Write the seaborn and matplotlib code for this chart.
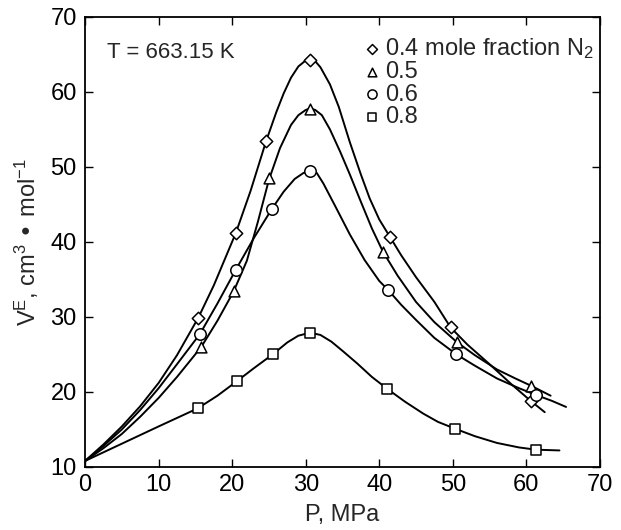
import numpy as np
import pandas as pd
import matplotlib
matplotlib.use("Agg")
import matplotlib.pyplot as plt
import seaborn as sns

sns.set_theme(style="ticks")
plt.rcParams['font.family'] = ['Liberation Sans', 'DejaVu Sans']
plt.rcParams['mathtext.default'] = 'regular'

# measured points (P in MPa, V^E in cm3/mol)
labels = ["0.4 mole fraction N$_2$", "0.5", "0.6", "0.8"]
markers = ["D", "^", "o", "s"]
marker_sizes = [40, 60, 68, 50]

p_04 = [15.4, 20.5, 24.6, 30.6, 41.5, 49.7, 60.6]
v_04 = [29.9, 41.2, 53.4, 64.2, 40.6, 28.6, 18.8]
p_05 = [15.8, 20.2, 25.0, 30.6, 40.5, 50.6, 60.7]
v_05 = [26.0, 33.4, 48.5, 57.7, 38.7, 26.6, 20.8]
p_06 = [15.6, 20.5, 25.4, 30.6, 41.2, 50.5, 61.3]
v_06 = [27.7, 36.3, 44.4, 49.4, 33.6, 25.0, 19.6]
p_08 = [15.3, 20.6, 25.5, 30.6, 41.1, 50.3, 61.3]
v_08 = [17.8, 21.4, 25.0, 27.9, 20.4, 15.1, 12.3]

# smooth fitted curves
cp_04 = [0, 2.5, 5, 7.5, 10, 12.5, 15.4, 17.5, 20.5, 22.5, 24.6, 26, 27, 28, 29, 30, 30.6, 31.2,
         32, 33.3, 34.5, 36, 37.5, 38.7, 40, 41.5, 43, 45, 47.5, 49.7, 52, 55, 58, 60.6, 62.5]
cv_04 = [10.8, 13.0, 15.4, 18.1, 21.2, 24.9, 29.9, 34.2, 41.2, 46.8, 53.4, 57.3, 59.8, 61.9, 63.4, 64.2, 64.4, 64.2,
         63.3, 61.0, 58.0, 53.3, 49.0, 45.8, 43.0, 40.6, 38.2, 35.3, 32.0, 28.6, 26.3, 23.7, 21.0, 18.8, 17.3]
cp_05 = [0, 2.5, 5, 7.5, 10, 12.5, 15.8, 18, 20.2, 22, 23.5, 25, 26.5, 28, 29, 30, 30.6, 31.3,
         32.2, 33.3, 34.7, 36, 37.4, 39, 40.5, 42.5, 45, 47.5, 50.6, 53, 56, 58.5, 60.7, 63.3]
cv_05 = [10.8, 12.5, 14.4, 16.7, 19.2, 22.0, 26.0, 29.5, 33.4, 37.5, 42.7, 48.3, 52.5, 55.6, 56.9, 57.6, 57.8, 57.6,
         56.9, 55.0, 52.0, 49.0, 45.6, 41.8, 38.7, 35.5, 32.0, 29.3, 26.6, 24.9, 23.0, 21.8, 20.8, 19.5]
cp_06 = [0, 2.5, 5, 7.5, 10, 12.5, 15.6, 18, 20.5, 23, 25.4, 27, 28.5, 29.7, 30.6, 31.5, 32.4,
         34, 36, 38, 40, 41.2, 43, 45, 47.5, 50.5, 53, 56, 59, 61.3, 63.5, 65.4]
cv_06 = [10.8, 12.8, 15.0, 17.6, 20.5, 23.7, 27.7, 31.8, 36.3, 40.6, 44.4, 46.7, 48.4, 49.2, 49.4, 49.2, 47.8,
         44.8, 41.0, 37.6, 34.8, 33.6, 31.6, 29.6, 27.2, 25.0, 23.5, 21.8, 20.5, 19.6, 18.8, 18.0]
cp_08 = [0, 5, 10, 15.3, 18, 20.6, 23, 25.5, 27.5, 29, 30.6, 32, 33.5, 35.1, 37, 39, 41.1,
         43.5, 46, 48, 50.3, 53, 56, 59, 61.3, 64.5]
cv_08 = [10.8, 13.1, 15.4, 17.8, 19.5, 21.4, 23.2, 25.0, 26.6, 27.5, 27.9, 27.6, 26.7, 25.4, 23.8, 22.0, 20.4,
         18.7, 17.1, 16.0, 15.1, 14.1, 13.2, 12.6, 12.3, 12.2]

pts = [(p_04, v_04), (p_05, v_05), (p_06, v_06), (p_08, v_08)]
curves = [(cp_04, cv_04), (cp_05, cv_05), (cp_06, cv_06), (cp_08, cv_08)]

fig = plt.figure(figsize=(6.21, 5.30), dpi=100)
ax = fig.add_axes([0.137, 0.119, 0.829, 0.849])

for (cp, cv) in curves:
    dfc = pd.DataFrame({"P": cp, "V": cv})
    sns.lineplot(data=dfc, x="P", y="V", ax=ax, color="black", lw=1.4,
                 sort=False, estimator=None, legend=False, zorder=2)

for (p, v), lab, m, s in zip(pts, labels, markers, marker_sizes):
    dfp = pd.DataFrame({"P": p, "V": v})
    sns.scatterplot(data=dfp, x="P", y="V", ax=ax, marker=m, s=s,
                    facecolor="white", edgecolor="black", linewidth=1.1,
                    label=lab, zorder=3)

ax.set_xlim(0, 70)
ax.set_ylim(10, 70)
ax.set_xticks(range(0, 71, 10))
ax.set_yticks(range(10, 71, 10))
ax.tick_params(direction="in", top=True, right=True, length=6, width=1.0,
               labelsize=17, colors="black")
ax.tick_params(axis="x", pad=5)
ax.tick_params(axis="y", pad=6)
for sp in ax.spines.values():
    sp.set_linewidth(1.3)
    sp.set_color("black")

ax.set_xlabel("P, MPa", fontsize=17, labelpad=6)
ax.set_ylabel("V$^{E}$, cm$^{3}$ • mol$^{-1}$", fontsize=17, labelpad=7)

ax.text(3.0, 65.2, "T = 663.15 K", fontsize=16, ha="left", va="center")

leg = ax.legend(loc="upper right", bbox_to_anchor=(1.02, 0.995), frameon=False,
                fontsize=17, handletextpad=0.05, labelspacing=0.02,
                borderaxespad=0.3, handlelength=1.0, markerscale=0.8)

fig.savefig("out.png", dpi=100)
